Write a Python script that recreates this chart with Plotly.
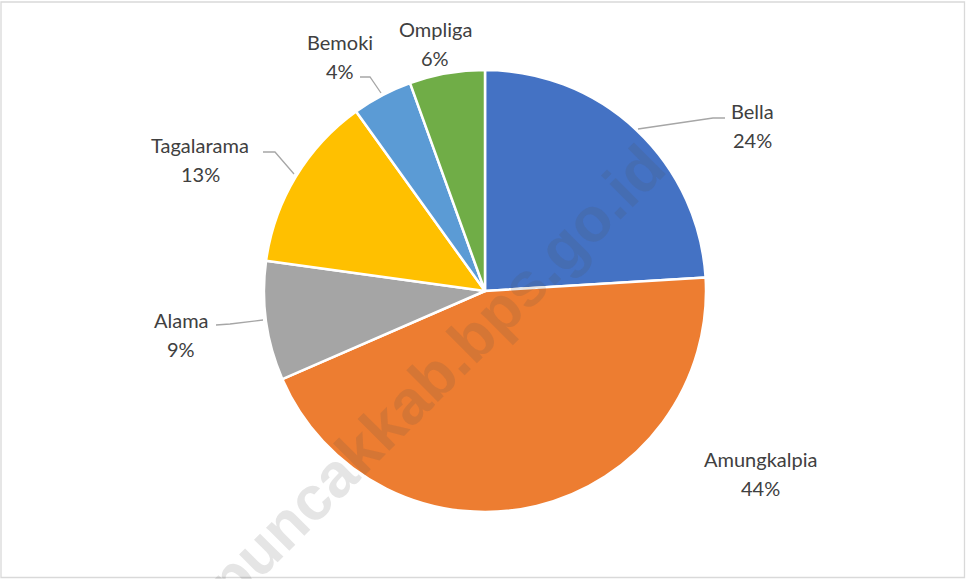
import plotly.graph_objects as go

# ---- data ----
categories = ["Bella", "Amungkalpia", "Alama", "Tagalarama", "Bemoki", "Ompliga"]
values = [24.0, 44.4, 8.7, 12.9, 4.4, 5.5]
colors = ["#4472C4", "#ED7D31", "#A5A5A5", "#FFC000", "#5B9BD5", "#70AD47"]

# label placement (pixel positions of the name line centre)
label_px = {
    "Bella": (752, 111),
    "Amungkalpia": (760, 459),
    "Alama": (181, 320),
    "Tagalarama": (200, 145),
    "Bemoki": (340, 42),
    "Ompliga": (435, 29),
}
# leader lines (pixel polylines)
leaders = {
    "Bella": [(638, 129), (713, 118), (725, 118)],
    "Tagalarama": [(263, 152), (275, 152), (294, 174)],
    "Alama": [(216, 325), (230, 324), (263, 320)],
    "Bemoki": [(360, 77), (370, 77), (381, 93)],
}

W, H = 969, 579
cx, cy, r = 485, 291, 221

def px(x):
    return x / W

def py(y):
    return 1 - y / H

total = sum(values)
pcts = [round(v / total * 100) for v in values]

fig = go.Figure(go.Pie(
    labels=categories,
    values=values,
    marker=dict(colors=colors, line=dict(color="white", width=2.5)),
    sort=False,
    direction="clockwise",
    rotation=0,
    textinfo="none",
    hoverinfo="label+percent",
    domain=dict(x=[px(cx - r), px(cx + r)], y=[py(cy + r), py(cy - r)]),
    showlegend=False,
))

annotations = []
label_font = dict(family="Lato, Carlito, Calibri, sans-serif", size=20, color="#404040")
for cat, p in zip(categories, pcts):
    x, y = label_px[cat]
    annotations.append(dict(x=px(x), y=py(y), xref="paper", yref="paper", text=cat,
                            showarrow=False, font=label_font, xanchor="center", yanchor="middle"))
    annotations.append(dict(x=px(x), y=py(y + 29), xref="paper", yref="paper", text=f"{p}%",
                            showarrow=False, font=label_font, xanchor="center", yanchor="middle"))

# watermark
annotations.append(dict(x=px(435), y=py(374), xref="paper", yref="paper",
                        text="<b>puncakkab.bps.go.id</b>", showarrow=False, textangle=-45,
                        font=dict(family="Liberation Sans, Arial, sans-serif", size=62,
                                  color="rgba(80,80,80,0.15)"),
                        xanchor="center", yanchor="middle"))

shapes = []
for cat, pts in leaders.items():
    path = "M " + " L ".join(f"{px(x)},{py(y)}" for x, y in pts)
    shapes.append(dict(type="path", path=path, xref="paper", yref="paper",
                       line=dict(color="#A6A6A6", width=1.3)))
# chart border
shapes.append(dict(type="rect", xref="paper", yref="paper",
                   x0=px(1), x1=px(964.5), y0=py(577.5), y1=py(2),
                   line=dict(color="#D9D9D9", width=1.3)))

fig.update_layout(
    width=W, height=H,
    margin=dict(l=0, r=0, t=0, b=0),
    paper_bgcolor="white",
    plot_bgcolor="white",
    annotations=annotations,
    shapes=shapes,
)

fig.write_html("out.html", config={"displayModeBar": False},
               post_script="document.body.style.margin='0';")
